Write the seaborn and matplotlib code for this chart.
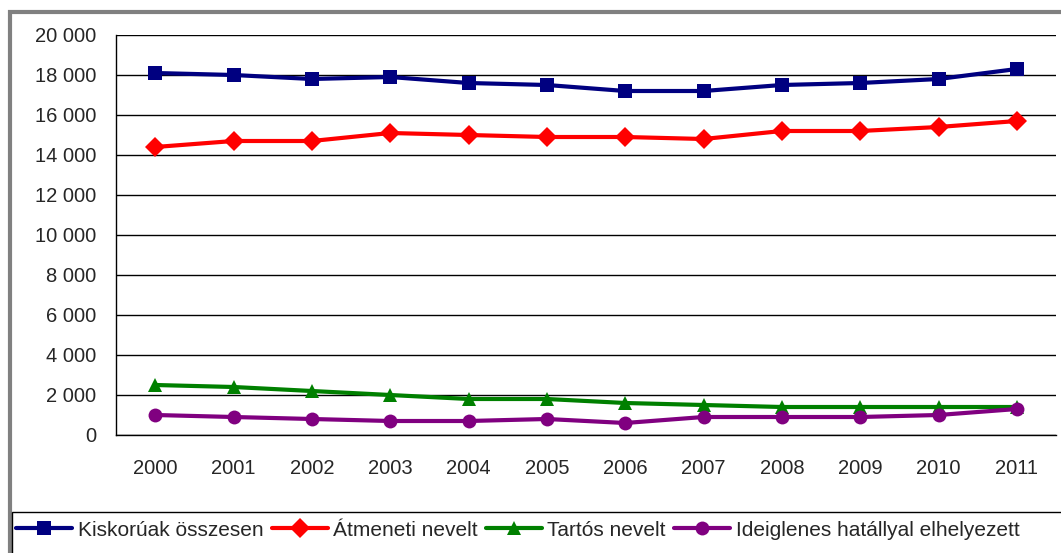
import pandas as pd
import matplotlib.pyplot as plt
import seaborn as sns
from matplotlib.patches import Rectangle
from matplotlib.ticker import FuncFormatter, MultipleLocator

# Data
years = [2000, 2001, 2002, 2003, 2004, 2005, 2006, 2007, 2008, 2009, 2010, 2011]
kiskoruak = [18100, 18000, 17800, 17900, 17600, 17500, 17200, 17200, 17500, 17600, 17800, 18300]
atmeneti = [14400, 14700, 14700, 15100, 15000, 14900, 14900, 14800, 15200, 15200, 15400, 15700]
tartos = [2500, 2400, 2200, 2000, 1800, 1800, 1600, 1500, 1400, 1400, 1400, 1400]
ideiglenes = [1000, 900, 800, 700, 700, 800, 600, 900, 900, 900, 1000, 1300]

series_names = ["Kiskorúak összesen", "Átmeneti nevelt", "Tartós nevelt",
                "Ideiglenes hatállyal elhelyezett"]
series_values = [kiskoruak, atmeneti, tartos, ideiglenes]
colors = ["#000080", "#FF0000", "#008000", "#800080"]
marker_styles = ["s", "D", "^", "o"]

df = pd.DataFrame({
    "year": years * len(series_names),
    "value": [v for vals in series_values for v in vals],
    "series": [n for n in series_names for _ in years],
})

sns.set_style("white")
plt.rcParams["font.family"] = ["Liberation Sans", "DejaVu Sans"]

fig = plt.figure(figsize=(10.61, 5.53), dpi=100)
ax = fig.add_axes([116 / 1061, 1 - 435 / 553, 940 / 1061, 400 / 553])

sns.lineplot(data=df, x="year", y="value", hue="series", style="series",
             hue_order=series_names, style_order=series_names,
             palette=colors, markers=marker_styles, dashes=False,
             linewidth=3, markersize=10, markeredgewidth=0, ax=ax, legend=False)

ax.set_xlim(years[0] - 0.5, years[-1] + 0.5)
ax.set_ylim(0, 20000)
ax.yaxis.set_major_locator(MultipleLocator(2000))
ax.yaxis.set_major_formatter(FuncFormatter(lambda v, p: f"{int(v):,}".replace(",", " ")))
ax.set_xticks(years)
ax.set_xticklabels([str(y) for y in years])
ax.set_xticks([y - 0.5 for y in years] + [years[-1] + 0.5], minor=True)
ax.tick_params(axis="x", which="major", length=0, pad=17, labelsize=14.5)
ax.tick_params(axis="x", which="minor", length=8, width=1, color="black", direction="out")
ax.tick_params(axis="y", length=8, width=1, color="black", direction="out", pad=6, labelsize=14.5)
ax.set_xlabel("")
ax.set_ylabel("")
ax.grid(axis="y", color="black", linewidth=1)
ax.set_axisbelow(True)
for side in ["top", "right"]:
    ax.spines[side].set_visible(False)
for side in ["left", "bottom"]:
    ax.spines[side].set_color("black")
    ax.spines[side].set_linewidth(1)

# outer gray frame and legend box
fig.patches.append(Rectangle((10 / 1061, -0.1), 1.2, 1 - 12 / 553 + 0.1,
                             transform=fig.transFigure, fill=False,
                             edgecolor="#808080", linewidth=3))
fig.patches.append(Rectangle((12 / 1061, -0.1), 1.2, 1 - 512 / 553 + 0.1,
                             transform=fig.transFigure, fill=False,
                             edgecolor="black", linewidth=1))

handles = [plt.Line2D([], [], color=c, marker=m, linewidth=3, markersize=10,
                      markeredgewidth=0) for c, m in zip(colors, marker_styles)]
fig.legend(handles, series_names, loc="center left", ncol=4,
           bbox_to_anchor=(14 / 1061, 1 - 530 / 553), frameon=False,
           fontsize=15, handlelength=2.7, handletextpad=0.25, columnspacing=0.4,
           borderaxespad=0, borderpad=0.1)

fig.savefig("out.png", dpi=100, facecolor="white")
